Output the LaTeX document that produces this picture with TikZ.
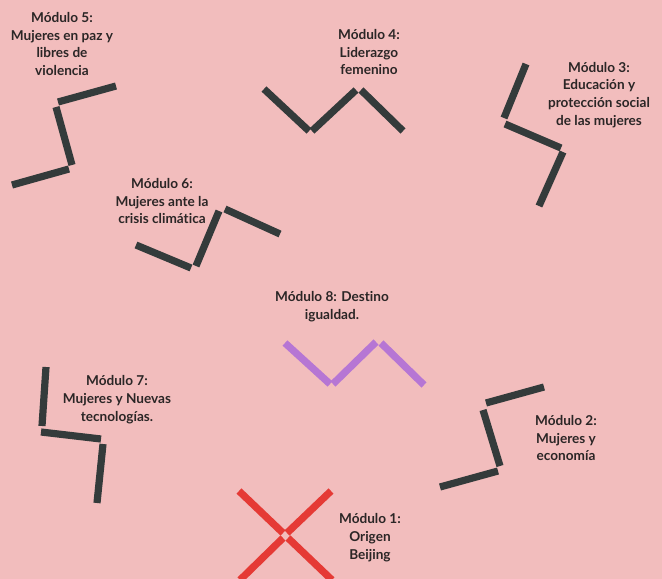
\documentclass[tikz,border=0pt]{standalone}
\usepackage{fontspec}
\setmainfont[Ligatures=NoCommon]{Lato}
\definecolor{bgpink}{HTML}{F2BDBD}
\definecolor{bar}{HTML}{343B3B}
\definecolor{xred}{HTML}{E53A35}
\definecolor{lilac}{HTML}{B676D4}
\definecolor{txt}{HTML}{2B2626}
\begin{document}
\begin{tikzpicture}[x=0.75pt,y=-0.75pt,
  seg/.style={line width=5.4pt,line cap=butt,color=bar},
  segp/.style={seg,color=lilac},
  segr/.style={seg,color=xred},
  lbl/.style={align=center,font=\bfseries\fontsize{10.2}{13.4}\selectfont,text=txt,inner sep=0pt}]
\fill[bgpink] (0,0) rectangle (662,579);
\useasboundingbox (0,0) rectangle (662,579);
% Module 5
\draw[seg] (58,102) -- (116,86);
\draw[seg] (56,107) -- (72,165);
\draw[seg] (69,169) -- (12,185);
\node[lbl] (m5) at (62,44) {Módulo 5:\\Mujeres en paz y\\libres de\\violencia};
% Module 4
\draw[seg] (264,89) -- (309,131);
\draw[seg] (312,131) -- (356,90);
\draw[seg] (361,90) -- (403,131);
\node[lbl] (m4) at (369,52) {Módulo 4:\\Liderazgo\\femenino};
% Module 3
\draw[seg] (526,64) -- (504,118);
\draw[seg] (505,124) -- (561,148);
\draw[seg] (563,152) -- (539,206);
\node[lbl] (m3) at (599,95) {Módulo 3:\\Educación y\\protección social\\de las mujeres};
% Module 6
\draw[seg] (136,245) -- (191,268);
\draw[seg] (196,266) -- (219,211);
\draw[seg] (225,209) -- (280,234);
\node[lbl] (m6) at (162,201) {Módulo 6:\\Mujeres ante la\\crisis climática};
% Module 8
\draw[segp] (285,343) -- (330,384);
\draw[segp] (333,384) -- (376,342);
\draw[segp] (381,343) -- (424,385);
\node[lbl] (m8) at (332,307) {Módulo 8: Destino\\igualdad.};
% Module 7
\draw[seg] (46,367) -- (42,426);
\draw[seg] (41,432) -- (101,439);
\draw[seg] (103,444) -- (97,503);
\node[lbl] (m7) at (117,400) {Módulo 7:\\Mujeres y Nuevas\\tecnologías.};
% Module 2
\draw[seg] (486,403) -- (544,387);
\draw[seg] (483,410) -- (500,466);
\draw[seg] (498,471) -- (440,487);
\node[lbl] (m2) at (566,438) {Módulo 2:\\Mujeres y\\economía};
% Module 1
\draw[segr] (239,491) -- (283,533);
\draw[segr] (288,538) -- (332,580);
\draw[segr] (331,491) -- (287,533);
\draw[segr] (283,538) -- (240,580);
\node[lbl] (m1) at (370,538) {Módulo 1:\\Origen\\Beijing};
\end{tikzpicture}
\end{document}
